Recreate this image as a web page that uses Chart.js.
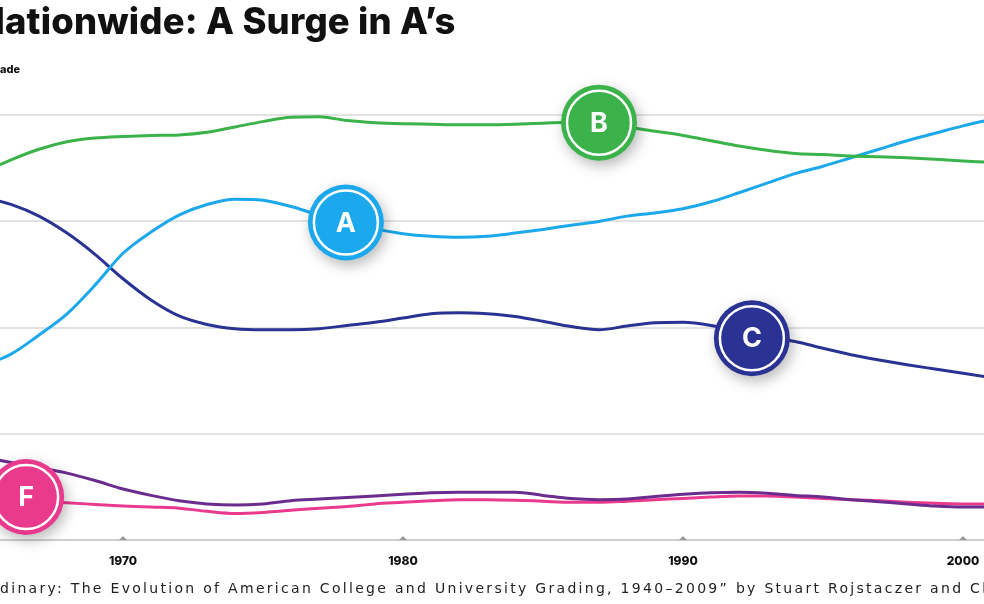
<!DOCTYPE html>
<html>
<head>
<meta charset="utf-8">
<script src="https://cdn.jsdelivr.net/npm/chart.js@4.4.1/dist/chart.umd.min.js"></script>
<style>
  body { margin: 0; background: #fff; overflow: hidden; }
  #wrap { position: relative; width: 984px; height: 604px; overflow: hidden; }
  canvas { position: absolute; left: 0; top: 0; }
  .txt { position: absolute; white-space: nowrap; color: #111; }
  .pre { position: absolute; right: 100%; }
  #title { left: 5px; top: -1px; font: 800 36.4px "Inter", sans-serif; letter-spacing: 0.2px; }
  #sub { left: 0px; top: 62px; font: 800 11px "Inter", sans-serif; }
  #src { left: 0px; top: 580px; font: 400 14px "DejaVu Sans", sans-serif; letter-spacing: 2.3px; color: #222; }
</style>
</head>
<body>
<div id="wrap">
  <canvas id="chart" width="984" height="604"></canvas>
  <div class="txt" id="title"><span class="pre">Grade Inflation N</span>ationwide: A Surge in A’s</div>
  <div class="txt" id="sub"><span class="pre">Percentage of each letter gr</span>ade</div>
  <div class="txt" id="src"><span class="pre">Source: “Where A Is Or</span>dinary: The Evolution of American College and University Grading, 1940–2009” by Stuart Rojstaczer and Christopher Healy</div>
</div>
<script>
const years = [1965, 1966, 1967, 1968, 1969, 1970, 1971, 1972, 1973, 1974, 1975, 1976,
  1977, 1978, 1979, 1980, 1981, 1982, 1983, 1984, 1985, 1986, 1987, 1988, 1989, 1990,
  1991, 1992, 1993, 1994, 1995, 1996, 1997, 1998, 1999, 2000, 2001];

const gradeA = [16.4, 17.5, 19.3, 21.3, 24.0, 27.0, 29.0, 30.6, 31.6, 32.1, 32.0, 31.4,
  30.6, 29.9, 29.3, 28.85, 28.6, 28.5, 28.6, 28.9, 29.25, 29.65, 30.0, 30.5, 30.8, 31.2,
  31.85, 32.7, 33.6, 34.5, 35.2, 36.0, 36.8, 37.6, 38.3, 39.0, 39.6];
const gradeB = [34.6, 35.8, 36.8, 37.5, 37.85, 38.0, 38.1, 38.15, 38.4, 38.9, 39.4, 39.8,
  39.85, 39.5, 39.3, 39.2, 39.15, 39.1, 39.1, 39.15, 39.25, 39.35, 39.3, 38.9, 38.5, 38.1,
  37.6, 37.1, 36.7, 36.4, 36.3, 36.15, 36.1, 36.0, 35.85, 35.7, 35.55];
const gradeC = [32.3, 31.6, 30.5, 28.9, 26.9, 24.6, 22.6, 21.1, 20.3, 19.9, 19.8, 19.8,
  19.9, 20.2, 20.5, 20.9, 21.3, 21.4, 21.3, 21.05, 20.6, 20.1, 19.8, 20.15, 20.45, 20.5,
  20.2, 19.6, 19.1, 18.7, 18.05, 17.45, 16.95, 16.5, 16.1, 15.7, 15.3];
const gradeD = [7.8, 7.3, 6.8, 6.3, 5.6, 4.8, 4.2, 3.7, 3.4, 3.3, 3.4, 3.7,
  3.85, 4.0, 4.15, 4.3, 4.45, 4.5, 4.5, 4.5, 4.2, 3.9, 3.8, 3.85, 4.1, 4.3,
  4.45, 4.5, 4.4, 4.2, 4.05, 3.8, 3.6, 3.4, 3.2, 3.1, 3.1];
const gradeF = [3.9, 3.7, 3.6, 3.5, 3.35, 3.2, 3.1, 3.0, 2.7, 2.5, 2.6, 2.8,
  3.0, 3.15, 3.4, 3.55, 3.7, 3.8, 3.8, 3.75, 3.65, 3.55, 3.55, 3.65, 3.8, 3.9,
  4.05, 4.15, 4.15, 4.05, 3.9, 3.8, 3.7, 3.55, 3.45, 3.4, 3.4];

const xTicks = [1970, 1980, 1990, 2000];
const yTicks = [0, 10, 20, 30, 40];

// letter badges sit on the lines: [letter, year, value]
const badges = [
  ["B", 1987.0, 39.3],
  ["A", 1977.96, 29.9],
  ["C", 1992.46, 19.0],
  ["F", 1966.54, 4.05],
];

const colors = { A: "#1ba8ec", B: "#3bb34a", C: "#2a3393", D: "#6b2c8f", F: "#ea3a8e" };

function series(label, values, color) {
  return {
    label,
    data: years.map((y, i) => ({ x: y, y: values[i] })),
    borderColor: color,
    borderWidth: 3,
    pointRadius: 0,
    cubicInterpolationMode: "monotone",
    fill: false,
  };
}

const decor = {
  id: "decor",
  afterDatasetsDraw(chart) {
    const { ctx, scales: { x, y }, chartArea } = chart;
    // little triangle ticks on the axis
    ctx.save();
    ctx.fillStyle = "#9a9a9a";
    xTicks.forEach((t) => {
      const px = x.getPixelForValue(t);
      ctx.beginPath();
      ctx.moveTo(px - 4, chartArea.bottom);
      ctx.lineTo(px + 4, chartArea.bottom);
      ctx.lineTo(px, chartArea.bottom - 4);
      ctx.closePath();
      ctx.fill();
    });
    ctx.restore();

    badges.forEach(([letter, yr, val]) => {
      const cx = x.getPixelForValue(yr);
      const cy = y.getPixelForValue(val);
      const col = colors[letter];
      ctx.save();
      ctx.shadowColor = "rgba(0,0,0,0.28)";
      ctx.shadowBlur = 14;
      ctx.shadowOffsetX = 3;
      ctx.shadowOffsetY = 5;
      ctx.fillStyle = col;
      ctx.beginPath();
      ctx.arc(cx, cy, 38, 0, Math.PI * 2);
      ctx.fill();
      ctx.restore();

      ctx.save();
      ctx.strokeStyle = "#fff";
      ctx.lineWidth = 2.5;
      ctx.beginPath();
      ctx.arc(cx, cy, 32, 0, Math.PI * 2);
      ctx.stroke();
      ctx.fillStyle = "#fff";
      ctx.font = "700 27px Inter, sans-serif";
      ctx.textAlign = "center";
      ctx.textBaseline = "middle";
      ctx.fillText(letter, cx, cy + 1);
      ctx.restore();
    });
  },
};

new Chart(document.getElementById("chart"), {
  type: "line",
  data: {
    datasets: [
      series("B", gradeB, colors.B),
      series("A", gradeA, colors.A),
      series("C", gradeC, colors.C),
      series("D", gradeD, colors.D),
      series("F", gradeF, colors.F),
    ],
  },
  options: {
    responsive: false,
    animation: false,
    devicePixelRatio: 1,
    layout: { padding: { top: 94, left: 0, right: 0, bottom: 0 } },
    plugins: { legend: { display: false }, tooltip: { enabled: false } },
    scales: {
      x: {
        type: "linear",
        min: 1965.607,
        max: 2000.75,
        afterBuildTicks: (s) => { s.ticks = xTicks.map((v) => ({ value: v })); },
        afterFit: (s) => { s.height = 64; s.paddingLeft = 0; s.paddingRight = 0; },
        grid: { display: false },
        border: { display: false },
        ticks: {
          padding: 6,
          color: "#111",
          font: { family: "Inter", weight: "800", size: 12 },
          callback: (v) => String(v),
          maxRotation: 0,
          autoSkip: false,
        },
      },
      y: {
        min: 0,
        max: 42,
        afterBuildTicks: (s) => { s.ticks = yTicks.map((v) => ({ value: v })); },
        afterFit: (s) => { s.width = 0; s.paddingTop = 0; s.paddingBottom = 0; },
        border: { display: false },
        grid: {
          drawTicks: false,
          lineWidth: 2,
          color: (c) => (c.tick && c.tick.value === 0 ? "#cfcfcf" : "#e2e2e2"),
        },
        ticks: { display: false },
      },
    },
  },
  plugins: [decor],
});
</script>
</body>
</html>
